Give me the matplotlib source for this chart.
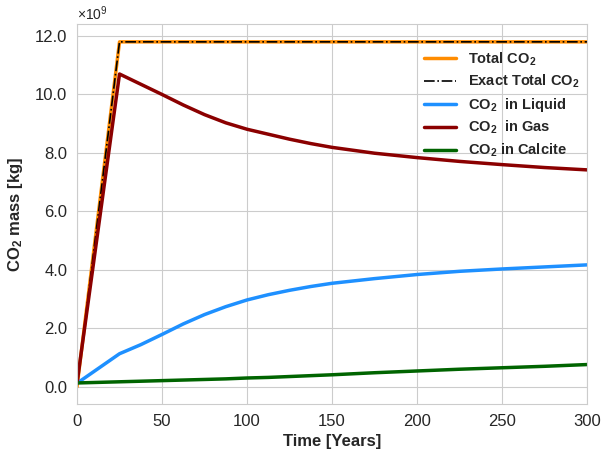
import matplotlib
matplotlib.use("Agg")
import matplotlib.pyplot as plt
import seaborn as sns
from matplotlib.ticker import ScalarFormatter, MultipleLocator

# Data (values in 1e9 kg)
time_total = [0, 25, 300]
total_co2 = [0.0, 11.8, 11.8]
exact_total_co2 = [0.0, 11.8, 11.8]

time = [0, 25, 37.5, 50, 62.5, 75, 87.5, 100, 112.5, 125, 137.5, 150,
        175, 200, 225, 250, 275, 300]
co2_gas = [0.12, 10.70, 10.35, 10.00, 9.64, 9.31, 9.03, 8.81, 8.64, 8.47, 8.32, 8.19,
           7.99, 7.84, 7.71, 7.60, 7.50, 7.42]
co2_liquid = [0.12, 1.13, 1.44, 1.79, 2.15, 2.47, 2.74, 2.97, 3.15, 3.30, 3.43, 3.54,
              3.70, 3.84, 3.95, 4.03, 4.10, 4.17]
co2_calcite = [0.13, 0.17, 0.19, 0.21, 0.23, 0.25, 0.27, 0.30, 0.32, 0.35, 0.38, 0.41,
               0.48, 0.54, 0.60, 0.65, 0.70, 0.76]

scale = 1e9

sns.set_style("whitegrid")
plt.rcParams['font.family'] = ['Liberation Sans', 'DejaVu Sans']
plt.rcParams['mathtext.fontset'] = 'custom'
plt.rcParams['mathtext.rm'] = 'Liberation Sans'
plt.rcParams['mathtext.bf'] = 'Liberation Sans:bold'
plt.rcParams['mathtext.it'] = 'Liberation Sans:italic'

fig = plt.figure(figsize=(6.04, 4.49), dpi=100)
ax = fig.add_axes([0.1275, 0.1002, 0.8445, 0.8463])

ax.plot(time_total, [v * scale for v in total_co2], color='#ff8c00', lw=2.5, label=r'Total CO$_{\mathbf{2}}$')
ax.plot(time_total, [v * scale for v in exact_total_co2], color='black', lw=1.2, ls='-.', label=r'Exact Total CO$_{\mathbf{2}}$')
ax.plot(time, [v * scale for v in co2_liquid], color='#1e90ff', lw=2.5, label=r'CO$_{\mathbf{2}}$  in Liquid')
ax.plot(time, [v * scale for v in co2_gas], color='#8b0000', lw=2.5, label=r'CO$_{\mathbf{2}}$  in Gas')
ax.plot(time, [v * scale for v in co2_calcite], color='#006400', lw=2.5, label=r'CO$_{\mathbf{2}}$ in Calcite')

ax.set_xlim(0, 300)
ax.set_ylim(-0.59e9, 12.41e9)
ax.xaxis.set_major_locator(MultipleLocator(50))
ax.yaxis.set_major_locator(MultipleLocator(2e9))


class OneDecimal(ScalarFormatter):
    def _set_format(self):
        self.format = '%.1f'


fmt = OneDecimal(useMathText=True)
fmt.set_powerlimits((9, 9))
ax.yaxis.set_major_formatter(fmt)
ax.yaxis.get_offset_text().set_fontsize(10)

ax.tick_params(axis='both', labelsize=12, colors='0.15')
ax.set_xlabel('Time [Years]', fontsize=12, fontweight='bold', color='0.15')
ax.set_ylabel(r'CO$_{\mathbf{2}}$ mass [kg]', fontsize=12, fontweight='bold', color='0.15')
ax.yaxis.set_label_coords(-0.102, 0.5)

leg = ax.legend(loc='upper right', bbox_to_anchor=(1.01, 0.965), frameon=False,
                prop={'weight': 'bold', 'size': 10.5}, handlelength=2.2,
                labelspacing=0.36)

fig.savefig('out.png', dpi=100)
